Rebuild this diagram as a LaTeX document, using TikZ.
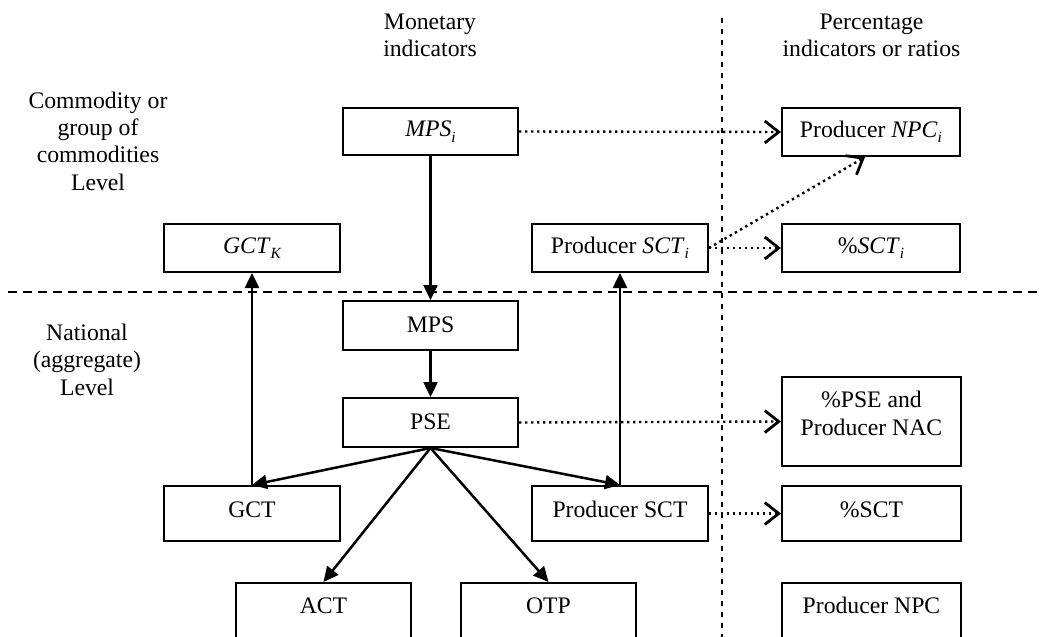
\documentclass[tikz,border=0pt]{standalone}
\usepackage{fontspec}
\setmainfont{Liberation Serif}
\usetikzlibrary{arrows.meta,calc}
\newcommand\mysub[1]{\raisebox{-0.22em}{\fontsize{15.5}{15.5}\selectfont\itshape #1}}
\begin{document}
\begin{tikzpicture}[x=1pt,y=-1pt,
  every node/.style={font=\fontsize{23.7}{27.3}\selectfont},
  box/.style={draw, line width=2pt, inner sep=0pt, text height=15.6pt, text depth=5pt},
  w175/.style={minimum width=175pt},
  w178/.style={minimum width=178pt},
  lbl/.style={align=center, inner sep=0pt},
  solidarrow/.style={line width=2.5pt, -{Triangle[length=15pt,width=14pt]}},
  dotarrow/.style={line width=2.4pt, dash pattern=on 2.4pt off 3.6pt, -{Straight Barb[length=14pt,width=22pt,line width=2.8pt]}},
  sepline/.style={line width=2pt, dash pattern=on 9pt off 6pt},
  vsepline/.style={line width=2pt, dash pattern=on 5pt off 6pt}
]
\useasboundingbox (0,0) rectangle (1042,637);

% separators
\coordinate (hl) at (8,292);
\coordinate (hr) at (1042,292);
\coordinate (vt) at (722,18);
\coordinate (vb) at (722,640);
\draw[sepline] (hl) -- (hr);
\draw[vsepline] (vt) -- (vb);

% headings (anchor=base is the baseline of the last line)
\node[lbl, anchor=base] (hmon) at (430,56.5) {Monetary\\indicators};
\node[lbl, anchor=base] (hpct) at (871.5,56.5) {Percentage\\indicators or ratios};
\node[lbl, anchor=base] (hcom) at (98,190) {Commodity or\\group of\\commodities\\Level};
\node[lbl, anchor=base] (hnat) at (87,395) {National\\(aggregate)\\Level};

% boxes
\node[box, w175, minimum height=47pt] (mpsi) at (430.5,131.5) {\textit{MPS}\mysub{i}};
\node[box, w178, minimum height=48pt] (npci) at (871,132) {Producer \textit{NPC}\mysub{i}};
\node[box, minimum width=176pt, minimum height=48pt] (gctk) at (252,248) {\textit{GCT}\mysub{K}};
\node[box, minimum width=176pt, minimum height=48pt] (scti) at (620,248) {Producer \textit{SCT}\mysub{i}};
\node[box, w178, minimum height=48pt] (pscti) at (871,248) {\%\textit{SCT}\mysub{i}};
\node[box, w175, minimum height=49pt, text depth=1pt] (mps) at (430.5,325.5) {MPS};
\node[box, w175, minimum height=49pt, text depth=1pt] (pse) at (430.5,422.5) {PSE};
\node[box, minimum width=179pt, minimum height=89pt] (ppse) at (871.5,421.5) {};
\node[lbl, anchor=base] (ppset) at (871.5,435) {\%PSE and\\Producer NAC};
\node[box, minimum width=176pt, minimum height=55pt, text depth=8pt] (gct) at (252,513.5) {GCT};
\node[box, minimum width=176pt, minimum height=55pt, text depth=8pt] (psct) at (620,513.5) {Producer SCT};
\node[box, minimum width=179pt, minimum height=55pt, text depth=8pt] (ppsct) at (871.5,513.5) {\%SCT};
\node[box, w175, minimum height=58pt, text depth=13.6pt] (act) at (323.5,612) {ACT};
\node[box, w175, minimum height=58pt, text depth=13.6pt] (otp) at (548.5,612) {OTP};
\node[box, minimum width=179pt, minimum height=58pt, text depth=13.6pt] (npc) at (871.5,612) {Producer NPC};

% solid arrows
\draw[solidarrow] (mpsi.south) -- (mps.north);
\draw[solidarrow] (mps.south) -- (pse.north);
\draw[solidarrow] (pse.south) -- (gct.north);
\draw[solidarrow] (pse.south) -- (act.north);
\draw[solidarrow] (pse.south) -- (otp.north);
\draw[solidarrow] (pse.south) -- (psct.north);
\draw[solidarrow] (gct.north) -- (gctk.south);
\draw[solidarrow] (psct.north) -- (scti.south);

% dotted arrows
\coordinate (npcitip) at ($(npci.south)+(-6,0)$);
\draw[dotarrow] (mpsi.east) -- (npci.west);
\draw[dotarrow] (scti.east) -- (pscti.west);
\draw[dotarrow] (scti.east) -- (npcitip);
\draw[dotarrow] (pse.east) -- (ppse.west);
\draw[dotarrow] (psct.east) -- (ppsct.west);
\end{tikzpicture}
\end{document}
